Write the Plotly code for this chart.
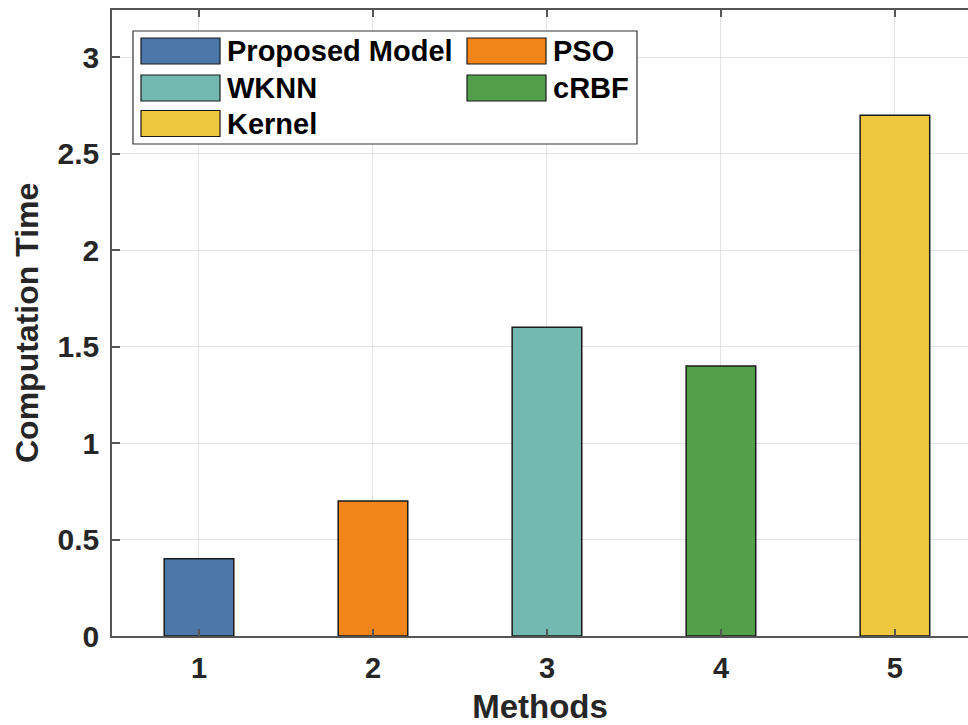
import plotly.graph_objects as go

methods = [1, 2, 3, 4, 5]
names = ["Proposed Model", "PSO", "WKNN", "cRBF", "Kernel"]
comp_time = [0.4, 0.7, 1.6, 1.4, 2.7]
colors = ["#4C77A8", "#F2851A", "#73B9B2", "#54A04A", "#EDC83E"]
y_ticks = [0, 0.5, 1, 1.5, 2, 2.5, 3]
y_tick_labels = ["0", "0.5", "1", "1.5", "2", "2.5", "3"]

W, H = 968, 725
L, T, B = 112, 10, 89
pw, ph = W - L, H - T - B

fig = go.Figure()
for m, n, v, c in zip(methods, names, comp_time, colors):
    fig.add_trace(go.Bar(x=[m], y=[v], name=n, width=0.4,
                         marker=dict(color=c, line=dict(color="#1a1a1a", width=1.5)),
                         showlegend=False))

font_family = "Liberation Sans, Arial, sans-serif"
fig.update_layout(
    width=W, height=H,
    margin=dict(l=L, r=0, t=T, b=B),
    plot_bgcolor="white", paper_bgcolor="white",
    barmode="overlay",
    font=dict(family=font_family, color="#262626"),
    xaxis=dict(range=[0.5, 5.42], tickvals=methods, ticktext=[str(m) for m in methods],
               showgrid=True, gridcolor="#e3e3e3", gridwidth=1,
               showline=True, linecolor="#555555", linewidth=1.5, mirror="ticks",
               ticks="inside", ticklen=7, tickwidth=1.5, tickcolor="#555555",
               ticklabelstandoff=5,
               tickfont=dict(size=29, family=font_family, color="#262626", weight="bold"),
               title=dict(text="<b>Methods</b>", font=dict(size=33, color="#262626"), standoff=16),
               zeroline=False),
    yaxis=dict(range=[0, 3.245], tickvals=y_ticks, ticktext=y_tick_labels,
               showgrid=True, gridcolor="#e3e3e3", gridwidth=1,
               showline=True, linecolor="#555555", linewidth=1.5, mirror=False,
               ticks="inside", ticklen=8, tickwidth=1.5, tickcolor="#555555",
               ticklabelstandoff=5,
               tickfont=dict(size=30, family=font_family, color="#262626", weight="bold"),
               zeroline=False),
)

# manual legend (MATLAB style, two columns)
def px(x):
    return (x - L) / pw
def py(y):
    return (H - B - y) / ph

shapes = [dict(type="rect", xref="paper", yref="paper", x0=px(133), x1=px(637),
               y0=py(144), y1=py(31), line=dict(color="#333333", width=1.2),
               fillcolor="white", layer="above")]
annots = [dict(xref="paper", yref="paper", x=px(27), y=0.5, text="<b>Computation Time</b>",
               textangle=-90, showarrow=False, xanchor="center", yanchor="middle",
               font=dict(size=32, color="#262626", family=font_family))]
col_x = [141, 467]
row_y = [51, 88, 123.5]
for i, (n, c) in enumerate(zip(names, colors)):
    r, col = divmod(i, 2)
    x0 = col_x[col]
    yc = row_y[r]
    shapes.append(dict(type="rect", xref="paper", yref="paper", x0=px(x0), x1=px(x0 + 79),
                       y0=py(yc + 13), y1=py(yc - 13), fillcolor=c,
                       line=dict(color="#1a1a1a", width=1.2), layer="above"))
    annots.append(dict(xref="paper", yref="paper", x=px(x0 + 84), y=py(yc), text="<b>" + n + "</b>",
                       showarrow=False, xanchor="left", yanchor="middle",
                       font=dict(size=29, color="#000000", family=font_family)))
fig.update_layout(shapes=shapes, annotations=annots)

fig.write_html("out.html", config={"displayModeBar": False},
               post_script="document.body.style.margin='0px';document.body.style.overflow='hidden';")
